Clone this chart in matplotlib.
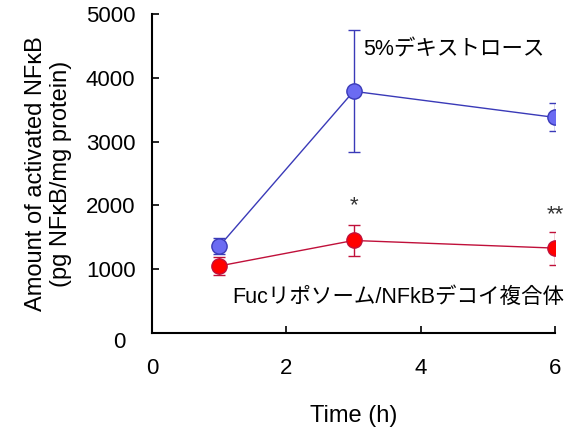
import numpy as np
import matplotlib
matplotlib.use('Agg')
import matplotlib.pyplot as plt
import matplotlib.transforms as mtransforms

plt.rcParams['font.family'] = ['Liberation Sans', 'Noto Sans CJK JP', 'DejaVu Sans']

# データ
time = [1, 3, 6]
dex_mean = [1360, 3790, 3380]
dex_err = [130, 960, 220]
fuc_mean = [1050, 1450, 1330]
fuc_err = [140, 250, 260]

fig = plt.figure(figsize=(5.74, 4.29), dpi=100)
ax = fig.add_axes([0.265, 0.224, 0.702, 0.743])

ax.errorbar(time, dex_mean, yerr=dex_err, color='#3a3ab8', lw=1, marker='o', ms=11,
            mfc='#6b6bf2', mec='#3a3ab8', mew=1, capsize=4, elinewidth=1, zorder=2)
ax.errorbar(time, fuc_mean, yerr=fuc_err, color='#c0103a', lw=1, marker='o', ms=11,
            mfc='#ff0000', mec='#c0103a', mew=1, capsize=4, elinewidth=1, zorder=3)

ax.text(3, 1990, '*', ha='center', va='center', fontsize=16, color='#333333')
ax.text(6, 1850, '**', ha='center', va='center', fontsize=16, color='#333333')

ax.text(3.15, 4430, '5%デキストロース', fontsize=15.5, va='center', ha='left')
ax.text(1.2, 560, 'Fucリポソーム/NFkBデコイ複合体', fontsize=15.5, va='center', ha='left')

ax.set_xlim(0, 6)
ax.set_ylim(0, 5000)
ax.set_xticks([0, 2, 4, 6])
ax.set_yticks([0, 1000, 2000, 3000, 4000, 5000])
ax.tick_params(direction='in', length=5, width=1.2, labelsize=16)
ax.tick_params(axis='x', pad=18)
ax.tick_params(axis='y', pad=12)
for s in ['top', 'right']:
    ax.spines[s].set_visible(False)
for s in ['left', 'bottom']:
    ax.spines[s].set_linewidth(1.5)

# "0" の位置を少しずらす
lab0 = ax.get_yticklabels()[0]
lab0.set_transform(lab0.get_transform() + mtransforms.ScaledTranslation(-0.1, -0.07, fig.dpi_scale_trans))

ax.set_xlabel('Time (h)', fontsize=17, labelpad=19)
ax.set_ylabel('Amount of activated NFκB\n(pg NFκB/mg protein)', fontsize=17, labelpad=10)

fig.savefig('out.png', dpi=100)
